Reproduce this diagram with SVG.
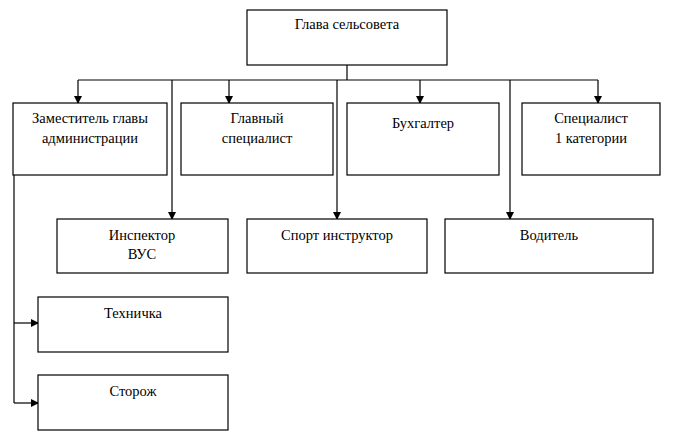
<svg xmlns="http://www.w3.org/2000/svg" width="674" height="437" viewBox="0 0 674 437">
<defs>
<marker id="a" markerWidth="8" markerHeight="8" refX="7" refY="4" orient="auto" markerUnits="userSpaceOnUse"><path d="M0,0 L8,4 L0,8 z" fill="#000"/></marker>
<style>
rect{fill:#fff;stroke:#000;stroke-width:1.2}
text{font-family:"Liberation Serif",serif;font-size:14.5px;text-anchor:middle;fill:#000}
.c line{stroke:#000;stroke-width:1.2}
</style>
</defs>
<rect x="0" y="0" width="674" height="437" style="stroke:none"/>
<g class="c">
<line x1="347" y1="65" x2="347" y2="80"/>
<line x1="78" y1="80" x2="598" y2="80"/>
<line x1="78" y1="80" x2="78" y2="103" marker-end="url(#a)"/>
<line x1="229" y1="80" x2="229" y2="103" marker-end="url(#a)"/>
<line x1="420" y1="80" x2="420" y2="103" marker-end="url(#a)"/>
<line x1="598" y1="80" x2="598" y2="103" marker-end="url(#a)"/>
<line x1="172" y1="80" x2="172" y2="219" marker-end="url(#a)"/>
<line x1="337" y1="80" x2="337" y2="219" marker-end="url(#a)"/>
<line x1="510" y1="80" x2="510" y2="219" marker-end="url(#a)"/>
<line x1="14" y1="175" x2="14" y2="403"/>
<line x1="14" y1="323" x2="38" y2="323" marker-end="url(#a)"/>
<line x1="14" y1="403" x2="38" y2="403" marker-end="url(#a)"/>
</g>
<g id="n0"><rect x="247" y="10" width="200" height="55"/><text x="347" y="29">Глава сельсовета</text></g>
<g id="n1"><rect x="13" y="103" width="154" height="72"/><text x="90" y="123">Заместитель главы</text><text x="90" y="143">администрации</text></g>
<g id="n2"><rect x="181" y="103" width="152" height="72"/><text x="257" y="123">Главный</text><text x="257" y="143">специалист</text></g>
<g id="n3"><rect x="347" y="103" width="152" height="72"/><text x="423" y="128">Бухгалтер</text></g>
<g id="n4"><rect x="522" y="103" width="138" height="72"/><text x="591" y="123">Специалист</text><text x="591" y="143">1 категории</text></g>
<g id="n5"><rect x="57" y="219" width="171" height="54"/><text x="142" y="240">Инспектор</text><text x="142" y="259">ВУС</text></g>
<g id="n6"><rect x="247" y="219" width="180" height="54"/><text x="337" y="240">Спорт инструктор</text></g>
<g id="n7"><rect x="445" y="219" width="208" height="54"/><text x="549" y="240">Водитель</text></g>
<g id="n8"><rect x="38" y="297" width="190" height="55"/><text x="133" y="318">Техничка</text></g>
<g id="n9"><rect x="38" y="375" width="190" height="55"/><text x="133" y="396">Сторож</text></g>
</svg>
